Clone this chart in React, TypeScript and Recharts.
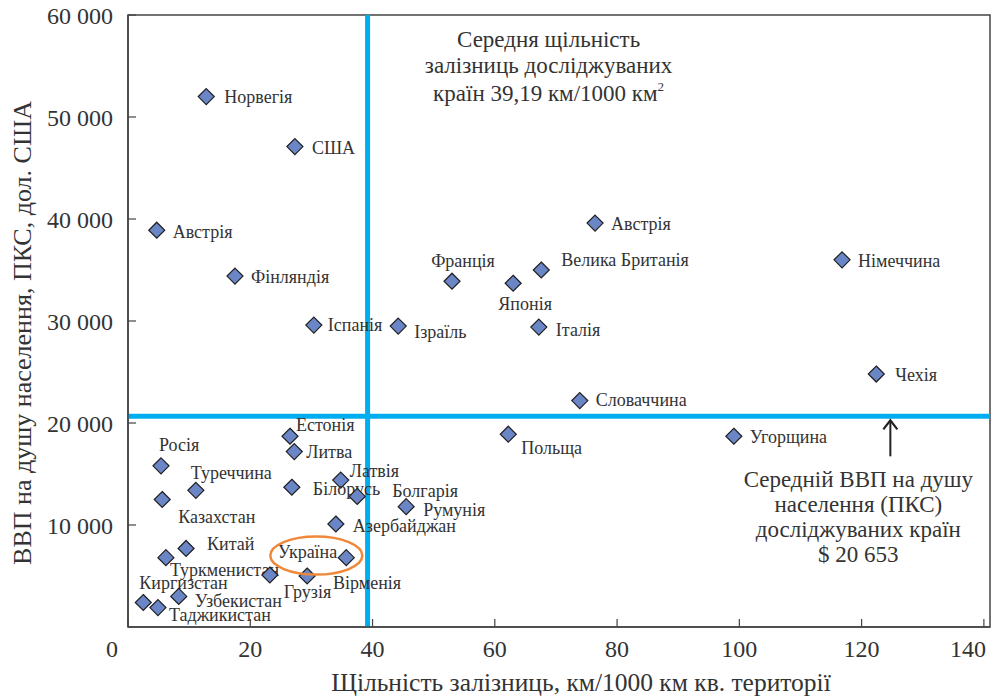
import { ScatterChart, Scatter, XAxis, YAxis, ReferenceLine, ReferenceDot, ReferenceArea } from "recharts"

const FONT = '"Liberation Serif", serif'

const countries = [
  "Норвегія", "США", "Австрія", "Фінляндія", "Іспанія", "Ізраїль", "Франція", "Японія",
  "Велика Британія", "Австрія", "Італія", "Німеччина", "Чехія", "Словаччина", "Польща", "Угорщина",
  "Естонія", "Литва", "Латвія", "Білорусь", "Болгарія", "Румунія", "Азербайджан", "Росія",
  "Казахстан", "Туреччина", "Китай", "Туркменистан", "Україна", "Грузія", "Вірменія", "Киргизстан",
  "Таджикистан", "Узбекистан",
]
// км / 1000 км²
const density = [
  12.8, 27.3, 4.7, 17.5, 30.4, 44.2, 53.0, 63.0,
  67.6, 76.4, 67.2, 116.8, 122.4, 73.9, 62.2, 99.1,
  26.5, 27.2, 34.8, 26.8, 37.5, 45.5, 34.0, 5.4,
  5.6, 11.1, 9.5, 6.2, 35.7, 23.2, 29.3, 2.5,
  4.9, 8.3,
]
// ВВП на душу, ПКС, дол. США
const gdp = [
  52000, 47100, 38900, 34400, 29600, 29500, 33900, 33700,
  35000, 39600, 29400, 36000, 24800, 22200, 18900, 18700,
  18700, 17200, 14400, 13700, 12800, 11800, 10100, 15800,
  12500, 13400, 7700, 6800, 6800, 5100, 5000, 2400,
  1900, 3000,
]
const xTicks = [0, 20, 40, 60, 80, 100, 120, 140]
const yTicks = [10000, 20000, 30000, 40000, 50000, 60000]
const avgDensity = 39.19
const avgGdp = 20653

// label placement relative to each marker: [dx, dy, anchor]
const labelOffsets: [number, number, "start" | "middle" | "end"][] = [
  [18, 0, "start"], [17, 1, "start"], [16, 1, "start"], [16, 1, "start"], [14, 0, "start"], [16, 6, "start"],
  [11, -21, "middle"], [12, 20, "middle"], [20, -10, "start"], [16, 1, "start"], [17, 3, "start"],
  [16, 1, "start"], [19, 1, "start"], [16, -1, "start"], [13, 13, "start"], [16, 0, "start"],
  [6, -12, "start"], [12, 0, "start"], [9, -9, "start"], [21, 1, "start"], [35, -6, "start"],
  [17, 3, "start"], [17, 2, "start"], [-2, -21, "start"], [16, 17, "start"], [-5, -18, "start"],
  [21, -5, "start"], [4, 12, "start"], [-9, -6, "end"], [14, 17, "start"], [26, 7, "start"],
  [-4, -20, "start"], [11, 7, "start"], [16, 4, "start"],
]

const points = countries.map((country, i) => ({ country, density: density[i], gdp: gdp[i], idx: i }))

const fmt = (v: number) => String(v).replace(/\B(?=(\d{3})+(?!\d))/g, " ")

function Diamond(props: any) {
  const { cx, cy, payload } = props
  const [dx, dy, anchor] = labelOffsets[payload.idx]
  const r = 8
  return (
    <g>
      <polygon
        points={`${cx},${cy - r} ${cx + r},${cy} ${cx},${cy + r} ${cx - r},${cy}`}
        fill="#6b86c6"
        stroke="#1f1f1f"
        strokeWidth={1.2}
      />
      <text x={cx + dx} y={cy + dy} dy="0.35em" textAnchor={anchor} fontSize={18} fill="#333" fontFamily={FONT}>
        {payload.country}
      </text>
    </g>
  )
}

function XTick({ x, y, payload }: any) {
  const shift = payload.value === 0 ? -16 : payload.value === 140 ? -12 : 0
  return (
    <text x={x + shift} y={y} dy="0.71em" textAnchor="middle" fontSize={24} fill="#333" fontFamily={FONT}>
      {payload.value}
    </text>
  )
}

export default function App() {
  return (
    <div style={{ position: "absolute", left: 0, top: 0, background: "#fff", fontFamily: FONT }}>
      <ScatterChart width={992} height={697} margin={{ top: 15, right: 2, bottom: 0, left: 0 }}>
        <ReferenceArea x1={0} x2={141} y1={0} y2={60000} fill="none" stroke="#444" strokeWidth={1.5} />
        <XAxis
          type="number"
          dataKey="density"
          domain={[0, 141]}
          ticks={xTicks}
          height={70}
          tickSize={-8}
          tickMargin={21}
          tick={<XTick />}
          axisLine={{ stroke: "#444", strokeWidth: 1.5 }}
          tickLine={{ stroke: "#444", strokeWidth: 1.2 }}
          label={({ viewBox }: any) => (
            <text
              x={viewBox.x + viewBox.width / 2 + 22}
              y={viewBox.y + 64}
              textAnchor="middle"
              fontSize={25.5}
              fill="#333"
              fontFamily={FONT}
            >
              Щільність залізниць, км/1000 км кв. території
            </text>
          )}
        />
        <YAxis
          type="number"
          dataKey="gdp"
          domain={[0, 60000]}
          ticks={yTicks}
          width={128}
          tickSize={-8}
          tickMargin={23}
          tickFormatter={fmt}
          tick={{ fontSize: 24, fill: "#333", fontFamily: FONT }}
          axisLine={{ stroke: "#444", strokeWidth: 1.5 }}
          tickLine={{ stroke: "#444", strokeWidth: 1.2 }}
          label={({ viewBox }: any) => {
            const cx = viewBox.x + 22
            const cy = 333
            return (
              <text
                x={cx}
                y={cy}
                dy="0.35em"
                transform={`rotate(-90, ${cx}, ${cy})`}
                textAnchor="middle"
                fontSize={26}
                fill="#333"
                fontFamily={FONT}
              >
                ВВП на душу населення, ПКС, дол. США
              </text>
            )
          }}
        />
        <ReferenceLine
          x={avgDensity}
          stroke="#00aeef"
          strokeWidth={5}
          label={({ viewBox }: any) => {
            const x = viewBox.x + 181
            const y = viewBox.y
            return (
              <g fontFamily={FONT} fontSize={23} fill="#333" textAnchor="middle">
                <text x={x} y={y + 32}>Середня щільність</text>
                <text x={x} y={y + 58}>залізниць досліджуваних</text>
                <text x={x} y={y + 86}>
                  країн 39,19 км/1000 км<tspan dy={-10} fontSize={13}>2</tspan>
                </text>
              </g>
            )
          }}
        />
        <ReferenceLine y={avgGdp} stroke="#00aeef" strokeWidth={5} />
        <Scatter data={points} shape={<Diamond />} isAnimationActive={false} />
        <ReferenceDot
          x={30.8}
          y={7000}
          r={0}
          shape={(p: any) => (
            <ellipse cx={p.cx} cy={p.cy} rx={46} ry={19} fill="none" stroke="#f0883a" strokeWidth={2.5} />
          )}
        />
        <ReferenceDot
          x={124.7}
          y={avgGdp}
          r={0}
          shape={(p: any) => (
            <g>
              <line x1={p.cx} y1={p.cy + 4} x2={p.cx} y2={p.cy + 40} stroke="#222" strokeWidth={2} />
              <polyline
                points={`${p.cx - 7},${p.cy + 13} ${p.cx},${p.cy + 4} ${p.cx + 7},${p.cy + 13}`}
                fill="none"
                stroke="#222"
                strokeWidth={2.2}
              />
              <g fontFamily={FONT} fontSize={23} fill="#333" textAnchor="middle">
                <text x={p.cx - 32} y={p.cy + 71}>Середній ВВП на душу</text>
                <text x={p.cx - 32} y={p.cy + 96}>населення (ПКС)</text>
                <text x={p.cx - 32} y={p.cy + 121}>досліджуваних країн</text>
                <text x={p.cx - 32} y={p.cy + 146}>$ 20 653</text>
              </g>
            </g>
          )}
        />
      </ScatterChart>
    </div>
  )
}
